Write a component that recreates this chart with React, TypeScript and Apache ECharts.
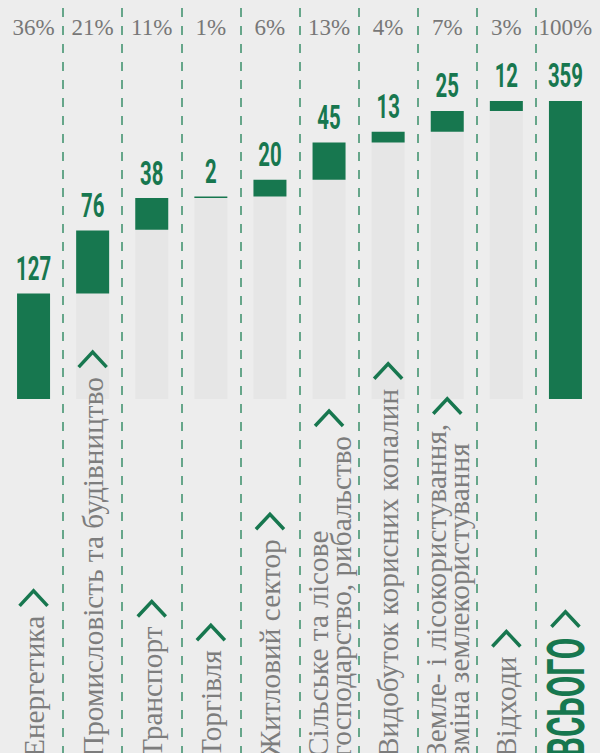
import React, { useEffect, useRef } from "react";
import * as echarts from "echarts";

const categories = [
  "Енергетика",
  "Промисловість та будівництво",
  "Транспорт",
  "Торгівля",
  "Житловий сектор",
  "Сільське та лісове\nгосподарство, рибальство",
  "Видобуток корисних копалин",
  "Земле- і лісокористування,\nзміна землекористування",
  "Відходи",
  "ВСЬОГО",
];
const shares = ["36%", "21%", "11%", "1%", "6%", "13%", "4%", "7%", "3%", "100%"];
const values = [127, 76, 38, 2, 20, 45, 13, 25, 12, 359];
const bases = [0, 127, 204, 242, 244, 264, 309, 322, 347, 0];

const GREEN = "#17774f";
const SERIF = "'Liberation Serif', 'DejaVu Serif', serif";
const NUM_FONT = "Roboto, 'Liberation Sans', sans-serif";

function measure(text: string, font: string): number {
  const c = document.createElement("canvas").getContext("2d");
  if (!c) return text.length * 12;
  c.font = font;
  return c.measureText(text).width;
}

export default function App() {
  const ref = useRef<HTMLDivElement>(null);
  useEffect(() => {
    if (!ref.current) return;
    const chart = echarts.init(ref.current, null, { renderer: "svg" });
    const option: any = {
      animation: false,
      backgroundColor: "#ededed",
      grid: { left: 4, right: 5, top: 8, bottom: 0 },
      xAxis: {
        type: "category",
        data: categories,
        axisLine: { show: false },
        axisTick: { show: false, interval: 0 },
        axisLabel: { show: false, interval: 0 },
        splitLine: {
          show: true,
          interval: 0,
          showMinLine: false,
          showMaxLine: false,
          lineStyle: { color: "#3a8f69", width: 1.5, type: [9, 9] },
        },
      },
      yAxis: { type: "value", min: -426.5, max: 471, show: false, splitLine: { show: false } },
      series: [
        {
          type: "bar",
          stack: "w",
          data: bases,
          barWidth: 33,
          itemStyle: { color: "#e6e6e6" },
          silent: true,
        },
        {
          type: "bar",
          stack: "w",
          data: values,
          barWidth: 33,
          itemStyle: { color: GREEN },
        },
        {
          type: "custom",
          data: values.map((v, i) => [i, bases[i] + v]),
          encode: { x: 0, y: 1 },
          z: 10,
          renderItem: (params: any, api: any) => {
            const i = params.dataIndex;
            const top = api.coord([i, api.value(1)]);
            const x = top[0];
            const isTotal = i === categories.length - 1;
            const children: any[] = [];
            children.push({
              type: "text",
              x,
              y: top[1] - 8,
              scaleX: 0.6,
              style: {
                text: String(values[i]),
                fontSize: 34,
                fontWeight: "bold",
                fontFamily: NUM_FONT,
                fill: GREEN,
                align: "center",
                verticalAlign: "bottom",
              },
            });
            children.push({
              type: "text",
              x,
              y: 27,
              style: {
                text: shares[i],
                fontSize: 23,
                fontFamily: SERIF,
                fill: "#777777",
                align: "center",
                verticalAlign: "middle",
              },
            });
            const fs = isTotal ? 52 : 29.3;
            const fw = isTotal ? "bold" : "normal";
            const ff = isTotal ? NUM_FONT : SERIF;
            const sx = isTotal ? 0.6 : 1;
            const lines = categories[i].split("\n");
            const w = Math.max(...lines.map((l) => measure(l, `${fw} ${fs}px ${ff}`))) * sx;
            const y0 = 757;
            children.push({
              type: "text",
              x,
              y: y0,
              rotation: Math.PI / 2,
              scaleX: sx,
              style: {
                text: categories[i],
                fontSize: fs,
                fontWeight: fw,
                fontFamily: ff,
                fill: isTotal ? GREEN : "#7d7d7d",
                align: "left",
                verticalAlign: "middle",
                lineHeight: 23,
              },
            });
            const gap = isTotal ? 11 : 10;
            const bottom = y0 - w - gap;
            children.push({
              type: "polyline",
              shape: {
                points: [
                  [x - 14, bottom],
                  [x, bottom - 15],
                  [x + 14, bottom],
                ],
              },
              style: { stroke: GREEN, lineWidth: 3.5, fill: null },
            });
            return { type: "group", children };
          },
        },
      ],
    };
    chart.setOption(option);
    return () => chart.dispose();
  }, []);
  return (
    <div
      ref={ref}
      style={{ position: "fixed", left: 0, top: 0, width: 600, height: 753 }}
    />
  );
}
